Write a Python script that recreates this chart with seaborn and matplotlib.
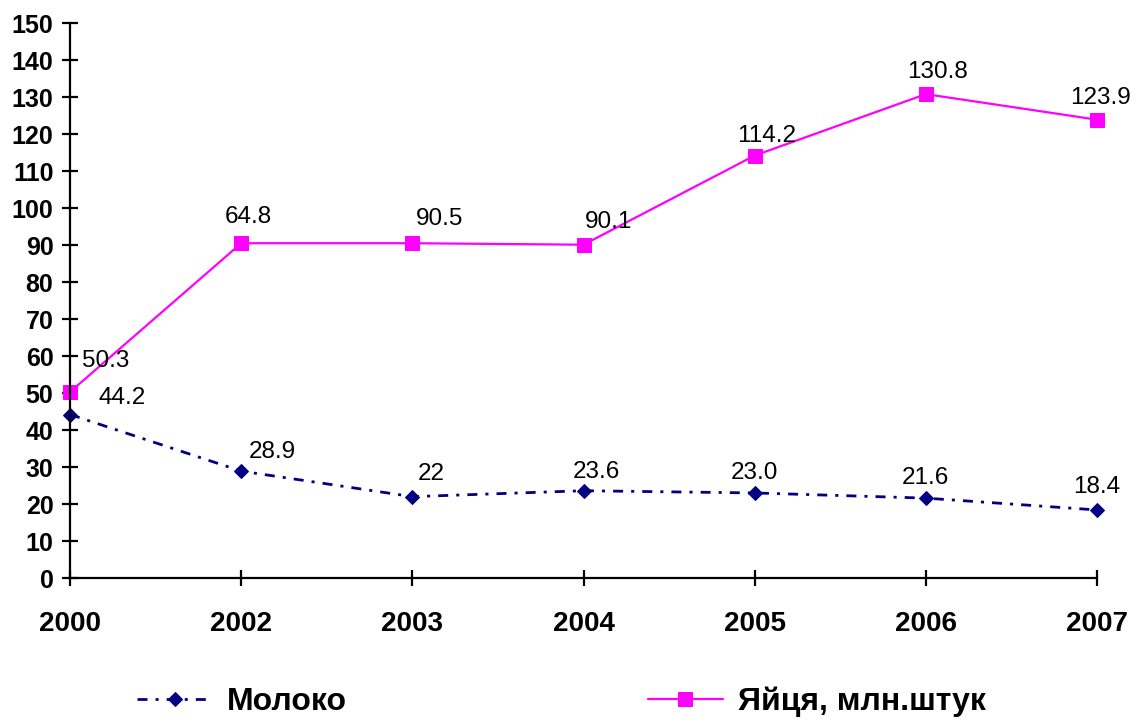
import matplotlib
matplotlib.use('Agg')
import matplotlib.pyplot as plt
import seaborn as sns
import pandas as pd

years = ['2000', '2002', '2003', '2004', '2005', '2006', '2007']
milk = [44.2, 28.9, 22.0, 23.6, 23.0, 21.6, 18.4]
milk_labels = ['44.2', '28.9', '22', '23.6', '23.0', '21.6', '18.4']
eggs = [50.3, 90.5, 90.5, 90.1, 114.2, 130.8, 123.9]
egg_labels = ['50.3', '64.8', '90.5', '90.1', '114.2', '130.8', '123.9']

sns.set_style('white')
plt.rcParams['font.family'] = ['Liberation Sans', 'DejaVu Sans']
plt.rcParams['text.color'] = 'black'

df = pd.DataFrame({'year': years, 'milk': milk, 'eggs': eggs})

fig = plt.figure(figsize=(11.41, 7.22), dpi=100)
ax = fig.add_axes([0.0614, 0.1994, 0.9, 0.7686])

sns.lineplot(data=df, x='year', y='milk', ax=ax, color='#000080', lw=2,
             linestyle=(0, (3.6, 2.9, 1.1, 2.9)), marker='D', markersize=7,
             markeredgecolor='#000080', label='Молоко', clip_on=False, sort=False)
sns.lineplot(data=df, x='year', y='eggs', ax=ax, color='#FF00FF', lw=1.6,
             marker='s', markersize=10, markeredgecolor='#FF00FF',
             label='Яйця, млн.штук', clip_on=False, sort=False)

# data labels (offsets in pixels, tuned by eye)
milk_off = [(52, 11), (31, 13), (19, 17), (13, 13), (0, 14), (0, 14), (0, 17)]
egg_off = [(36, 25), (7, 20), (27, 18), (25, 17), (12, 14), (12, 16), (4, 16)]
for i, (lab, v) in enumerate(zip(milk_labels, milk)):
    ax.annotate(lab, (i, v), xytext=milk_off[i], textcoords='offset pixels',
                ha='center', va='baseline', fontsize=17.5, color='black')
for i, (lab, v) in enumerate(zip(egg_labels, eggs)):
    ax.annotate(lab, (i, v), xytext=egg_off[i], textcoords='offset pixels',
                ha='center', va='baseline', fontsize=17.5, color='black')

ax.set_xlim(0, len(years) - 1)
ax.set_ylim(0, 150)
ax.set_yticks(range(0, 151, 10))
ax.set_xlabel('')
ax.set_ylabel('')
for s in ['top', 'right']:
    ax.spines[s].set_visible(False)
for s in ['left', 'bottom']:
    ax.spines[s].set_color('black')
    ax.spines[s].set_linewidth(1.6)
ax.tick_params(axis='both', direction='inout', length=12, width=1.6,
               colors='black', left=True, bottom=True)
ax.tick_params(axis='x', pad=18, labelsize=20)
ax.tick_params(axis='y', pad=6, labelsize=18)
for t in ax.get_xticklabels() + ax.get_yticklabels():
    t.set_fontweight('bold')

handles, labels = ax.get_legend_handles_labels()
ax.get_legend().remove()
leg = fig.legend(handles, labels, loc='center', bbox_to_anchor=(0.492, 0.028), ncol=2,
                 frameon=False, prop={'size': 23, 'weight': 'bold'},
                 handlelength=2.35, handletextpad=0.47, columnspacing=9.4)
for t in leg.get_texts():
    t.set_color('black')

fig.savefig('out.png', dpi=100)
